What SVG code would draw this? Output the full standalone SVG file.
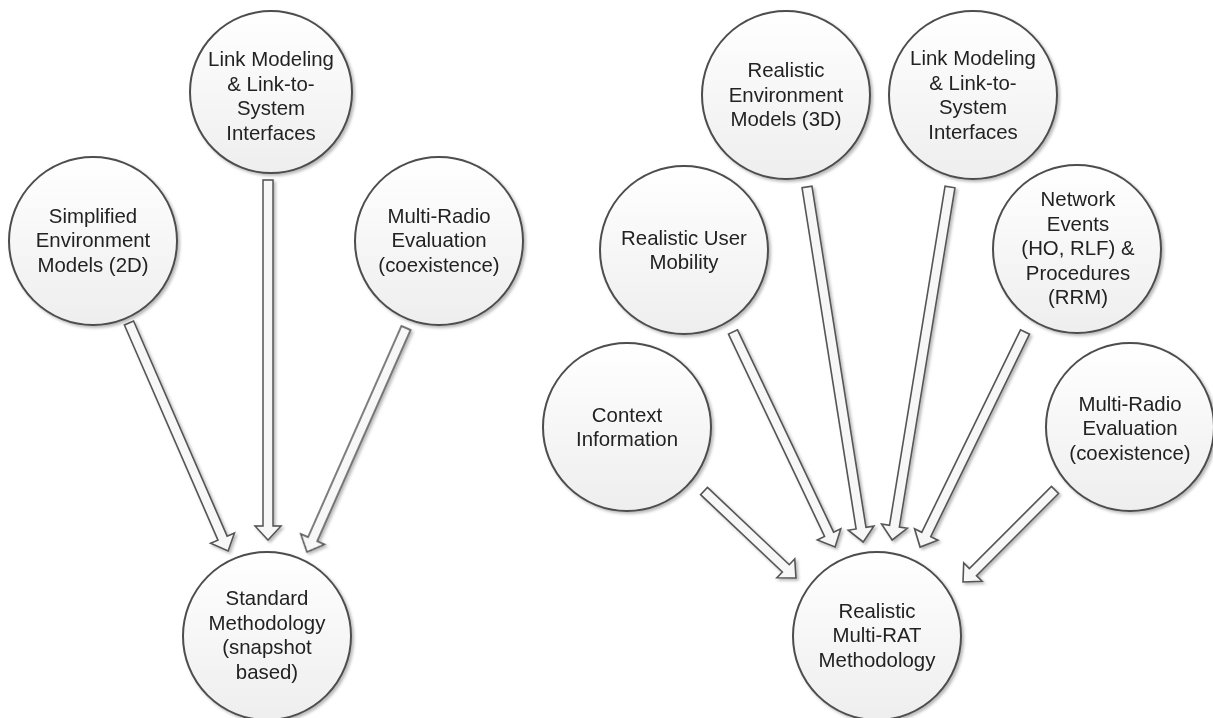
<svg xmlns="http://www.w3.org/2000/svg" width="1213" height="718" viewBox="0 0 1213 718">
<defs>
<linearGradient id="cg" x1="0" y1="0" x2="0" y2="1">
<stop offset="0" stop-color="#ffffff"/>
<stop offset="1" stop-color="#eeeeee"/>
</linearGradient>
<filter id="sh" x="-20%" y="-20%" width="140%" height="140%">
<feDropShadow dx="2" dy="2" stdDeviation="1.5" flood-color="#000" flood-opacity="0.28"/>
</filter>
</defs>
<style>
.node circle{fill:url(#cg);stroke:#4d4d4d;stroke-width:2;filter:url(#sh)}
.node text{font-family:"Liberation Sans",Arial,sans-serif;font-size:20.4px;fill:#222;text-anchor:middle}
.arr{fill:#f7f7f7;stroke:#555;stroke-width:1.6;stroke-linejoin:miter}
</style>
<rect width="1213" height="718" fill="#fff"/>
<g id="connectors" filter="url(#sh)">
<polygon class="arr" transform="translate(129,323) rotate(66.5)" points="0,-5 234.6,-5 234.6,-13 248.6,0 234.6,13 234.6,5 0,5"/>
<polygon class="arr" transform="translate(268,180) rotate(90)" points="0,-5 346,-5 346,-13 360,0 346,13 346,5 0,5"/>
<polygon class="arr" transform="translate(406,328) rotate(113.85)" points="0,-5 230.9,-5 230.9,-13 244.9,0 230.9,13 230.9,5 0,5"/>
<polygon class="arr" transform="translate(704,491) rotate(43.4)" points="0,-5 112.6,-5 112.6,-13 126.6,0 112.6,13 112.6,5 0,5"/>
<polygon class="arr" transform="translate(733,332) rotate(64.6)" points="0,-5 224,-5 224,-13 238,0 224,13 224,5 0,5"/>
<polygon class="arr" transform="translate(807,187) rotate(81)" points="0,-5 345.4,-5 345.4,-13 359.4,0 345.4,13 345.4,5 0,5"/>
<polygon class="arr" transform="translate(950,187) rotate(99.3)" points="0,-5 343.7,-5 343.7,-13 357.7,0 343.7,13 343.7,5 0,5"/>
<polygon class="arr" transform="translate(1025,332) rotate(116)" points="0,-5 225.3,-5 225.3,-13 239.3,0 225.3,13 225.3,5 0,5"/>
<polygon class="arr" transform="translate(1055,490) rotate(135)" points="0,-5 116.1,-5 116.1,-13 130.1,0 116.1,13 116.1,5 0,5"/>
</g>
<g id="simplified" class="node">
<circle cx="93" cy="241" r="84"/>
<text x="93" y="222.5">Simplified</text>
<text x="93" y="247">Environment</text>
<text x="93" y="271.5">Models (2D)</text>
</g>
<g id="link-left" class="node">
<circle cx="271" cy="92" r="81"/>
<text x="271" y="66">Link Modeling</text>
<text x="271" y="90.5">&amp; Link-to-</text>
<text x="271" y="115">System</text>
<text x="271" y="139.5">Interfaces</text>
</g>
<g id="multiradio-left" class="node">
<circle cx="439" cy="241" r="84"/>
<text x="439" y="222.5">Multi-Radio</text>
<text x="439" y="247">Evaluation</text>
<text x="439" y="271.5">(coexistence)</text>
</g>
<g id="standard" class="node">
<circle cx="267" cy="636" r="84"/>
<text x="267" y="605">Standard</text>
<text x="267" y="629.5">Methodology</text>
<text x="267" y="654">(snapshot</text>
<text x="267" y="678.5">based)</text>
</g>
<g id="realistic-env" class="node">
<circle cx="786" cy="95" r="84"/>
<text x="786" y="77">Realistic</text>
<text x="786" y="101.5">Environment</text>
<text x="786" y="126">Models (3D)</text>
</g>
<g id="link-right" class="node">
<circle cx="973" cy="95" r="84"/>
<text x="973" y="65">Link Modeling</text>
<text x="973" y="89.5">&amp; Link-to-</text>
<text x="973" y="114">System</text>
<text x="973" y="138.5">Interfaces</text>
</g>
<g id="mobility" class="node">
<circle cx="684" cy="250" r="84"/>
<text x="684" y="244.5">Realistic User</text>
<text x="684" y="269">Mobility</text>
</g>
<g id="network-events" class="node">
<circle cx="1077" cy="249" r="84"/>
<text x="1078" y="206">Network</text>
<text x="1078" y="230.5">Events</text>
<text x="1078" y="255">(HO, RLF) &amp;</text>
<text x="1078" y="279.5">Procedures</text>
<text x="1078" y="304">(RRM)</text>
</g>
<g id="context" class="node">
<circle cx="627" cy="427" r="84"/>
<text x="627" y="421.5">Context</text>
<text x="627" y="446">Information</text>
</g>
<g id="multiradio-right" class="node">
<circle cx="1130" cy="427" r="84"/>
<text x="1130" y="410.5">Multi-Radio</text>
<text x="1130" y="435">Evaluation</text>
<text x="1130" y="459.5">(coexistence)</text>
</g>
<g id="multirat" class="node">
<circle cx="877" cy="636" r="84"/>
<text x="877" y="617.5">Realistic</text>
<text x="877" y="642">Multi-RAT</text>
<text x="877" y="666.5">Methodology</text>
</g>
</svg>
